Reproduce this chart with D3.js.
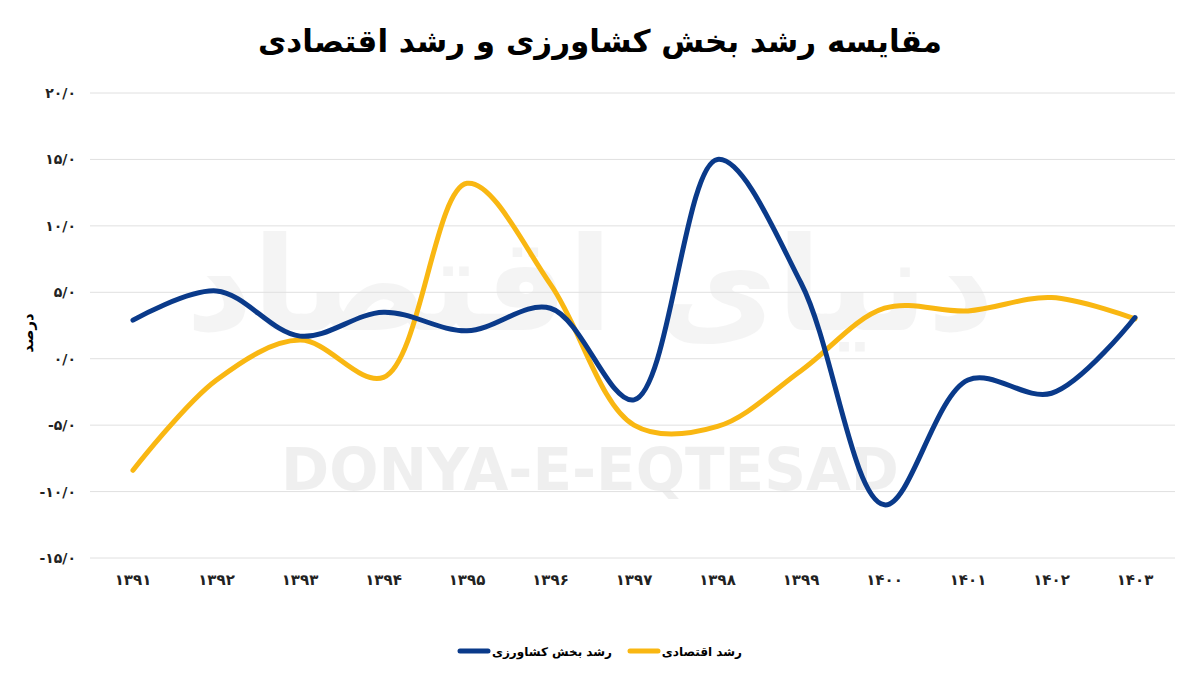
<!DOCTYPE html>
<html>
<head>
<meta charset="utf-8" />
<script src="https://d3js.org/d3.v7.min.js"></script>
<style>body{margin:0;background:#fff}text{font-family:"DejaVu Sans",sans-serif}</style>
</head>
<body>
<svg width="1200" height="674"></svg>
<script>
const years = ["۱۳۹۱","۱۳۹۲","۱۳۹۳","۱۳۹۴","۱۳۹۵","۱۳۹۶","۱۳۹۷","۱۳۹۸","۱۳۹۹","۱۴۰۰","۱۴۰۱","۱۴۰۲","۱۴۰۳"];
const agriGrowth = [2.9, 5.1, 1.7, 3.5, 2.1, 3.8, -3.1, 15.0, 5.7, -11.0, -1.6, -2.6, 3.1];
const econGrowth = [-8.4, -1.6, 1.4, -1.4, 13.2, 5.6, -5.0, -5.1, -0.9, 3.8, 3.6, 4.6, 3.0];
const yTicks = [-15, -10, -5, 0, 5, 10, 15, 20];
const yTickLabels = ["-۱۵/۰","-۱۰/۰","-۵/۰","۰/۰","۵/۰","۱۰/۰","۱۵/۰","۲۰/۰"];
const seriesNames = ["رشد بخش کشاورزی", "رشد اقتصادی"];
const colors = ["#0a3a8a", "#f9b712"];

const svg = d3.select("svg");
const x = d3.scalePoint().domain(years).range([133, 1135]);
const y = d3.scaleLinear().domain([-15, 20]).range([558, 93]);

svg.append("text").attr("x", 600).attr("y", 52).attr("text-anchor", "middle")
  .style("font-size", "31px").style("font-weight", "bold").text("مقایسه رشد بخش کشاورزی و رشد اقتصادی");

// watermark
svg.append("text").attr("x", 590).attr("y", 330).attr("text-anchor", "middle")
  .style("font-size", "130px").style("font-weight", "bold").attr("fill", "#000").attr("opacity", 0.04)
  .text("دنیای اقتصاد");
svg.append("text").attr("x", 590).attr("y", 490).attr("text-anchor", "middle")
  .style("font-size", "58px").style("font-weight", "bold").attr("fill", "#000").attr("opacity", 0.06)
  .text("DONYA-E-EQTESAD");

// grid
svg.append("g").selectAll("line").data(yTicks).join("line")
  .attr("x1", 90).attr("x2", 1175).attr("y1", d => y(d)).attr("y2", d => y(d))
  .attr("stroke", "#e0e0e0");

svg.append("g").selectAll("text").data(yTicks).join("text")
  .attr("x", 76).attr("y", d => y(d) + 5).attr("text-anchor", "end")
  .style("font-size", "14px").style("font-weight", "bold").attr("fill", "#222")
  .attr("direction", "ltr")
  .text((d, i) => yTickLabels[i]);

svg.append("g").selectAll("text").data(years).join("text")
  .attr("x", d => x(d)).attr("y", 585).attr("text-anchor", "middle")
  .style("font-size", "15px").style("font-weight", "bold").attr("fill", "#222")
  .text(d => d);

svg.append("text").attr("transform", "translate(33,333) rotate(-90)").attr("text-anchor", "middle")
  .style("font-size", "15px").style("font-weight", "bold").text("درصد");

const line = d3.line().x((d, i) => x(years[i])).y(d => y(d)).curve(d3.curveCatmullRom.alpha(0.5));
// yellow first, blue on top
[econGrowth, agriGrowth].forEach((s, k) => {
  svg.append("path").datum(s).attr("d", line).attr("fill", "none")
    .attr("stroke", colors[1 - k]).attr("stroke-width", 5).attr("stroke-linecap", "round");
});

// legend
const lg = [{x0: 460, tx: 612}, {x0: 630, tx: 742}];
lg.forEach((p, k) => {
  svg.append("line").attr("x1", p.x0).attr("x2", p.x0 + 28).attr("y1", 651).attr("y2", 651)
    .attr("stroke", colors[k]).attr("stroke-width", 5).attr("stroke-linecap", "round");
  svg.append("text").attr("x", p.tx).attr("y", 656).attr("text-anchor", "start")
    .attr("direction", "rtl")
    .style("font-size", "12px").style("font-weight", "bold").text(seriesNames[k]);
});
</script>
</body>
</html>
